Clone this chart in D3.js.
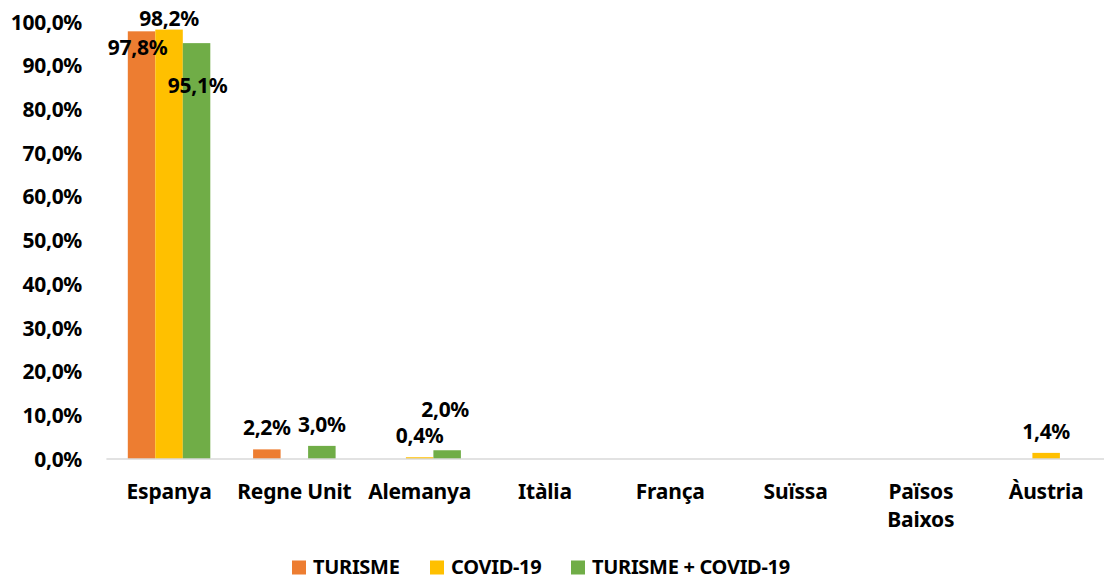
<!DOCTYPE html>
<html>
<head>
<meta charset="utf-8">
<script src="https://cdn.jsdelivr.net/npm/d3@7"></script>
<style>
body { margin: 0; background: #fff; }
svg text { font-family: "Noto Sans", "Open Sans", sans-serif; font-weight: bold; fill: #000; }
</style>
</head>
<body>
<svg></svg>
<script>
var categories = ["Espanya", "Regne Unit", "Alemanya", "Itàlia", "França", "Suïssa", "Països Baixos", "Àustria"];
var seriesNames = ["TURISME", "COVID-19", "TURISME + COVID-19"];
var turisme = [97.8, 2.2, 0, 0, 0, 0, 0, 0];
var covid = [98.2, 0, 0.4, 0, 0, 0, 0, 1.4];
var turismeCovid = [95.1, 3.0, 2.0, 0, 0, 0, 0, 0];
var yTicks = [0, 10, 20, 30, 40, 50, 60, 70, 80, 90, 100];
var colors = ["#ED7D31", "#FFC000", "#70AD47"];

var width = 1104, height = 580;
var allSeries = [turisme, covid, turismeCovid];

// label nudges (dx, dy) where the chart moved a data label by hand
var nudge = {
	"0|Espanya": [-4, 38],
	"1|Espanya": [0, 10],
	"2|Espanya": [1, 64],
	"2|Alemanya": [-2, -19]
};

var svg = d3.select("svg").attr("width", width).attr("height", height);

var x = d3.scaleBand().domain(categories).range([106.4, 1108.8]);
var xs = d3.scaleBand().domain(d3.range(3)).range([x.bandwidth() / 2 - 41.25, x.bandwidth() / 2 + 41.25]);
var y = d3.scaleLinear().domain([0, 100]).range([459, 21.7]);

var fmt = function(v) { return d3.format(".1f")(v).replace(".", ",") + "%"; };

// y axis labels
var yAxis = d3.axisLeft(y).tickValues(yTicks).tickSize(0).tickPadding(0).tickFormat(fmt);
var gy = svg.append("g").attr("transform", "translate(82,0)").call(yAxis);
gy.select(".domain").remove();
gy.selectAll("text").style("font-size", "21px").style("font-family", null).attr("dy", "0.35em").attr("letter-spacing", "-0.3");

// bars
var data = [];
allSeries.forEach(function(vals, s) {
	vals.forEach(function(v, i) {
		data.push({s: s, cat: categories[i], v: v});
	});
});

svg.append("g").selectAll("rect").data(data).enter().append("rect")
	.attr("x", function(d) { return x(d.cat) + xs(d.s); })
	.attr("width", xs.bandwidth())
	.attr("y", function(d) { return y(d.v); })
	.attr("height", function(d) { return y(0) - y(d.v); })
	.attr("fill", function(d) { return colors[d.s]; });

// x axis line
svg.append("line").attr("x1", 106.4).attr("x2", width).attr("y1", y(0)).attr("y2", y(0))
	.attr("stroke", "#D9D9D9").attr("stroke-width", 1.5);

// data labels
svg.append("g").selectAll("text").data(data.filter(function(d) { return d.v > 0; })).enter().append("text")
	.attr("x", function(d) {
		var n = nudge[d.s + "|" + d.cat] || [0, 0];
		return x(d.cat) + xs(d.s) + xs.bandwidth() / 2 + n[0];
	})
	.attr("y", function(d) {
		var n = nudge[d.s + "|" + d.cat] || [0, 0];
		return y(d.v) - 14 + n[1];
	})
	.attr("text-anchor", "middle")
	.attr("letter-spacing", "-0.3")
	.style("font-size", "21px")
	.text(function(d) { return fmt(d.v); });

// category labels
var xl = svg.append("g").selectAll("text").data(categories).enter().append("text")
	.attr("x", function(d) { return x(d) + x.bandwidth() / 2; })
	.attr("y", 499)
	.attr("text-anchor", "middle")
	.attr("letter-spacing", "-0.2")
	.style("font-size", "21px");
xl.each(function(d) {
	var t = d3.select(this);
	var parts = d === "Països Baixos" ? ["Països", "Baixos"] : [d];
	parts.forEach(function(p, k) {
		t.append("tspan").attr("x", x(d) + x.bandwidth() / 2).attr("dy", k === 0 ? 0 : 28).text(p);
	});
});

// legend
var legendX = [292, 430, 571];
var lg = svg.append("g").selectAll("g").data(seriesNames).enter().append("g")
	.attr("transform", function(d, i) { return "translate(" + legendX[i] + ",0)"; });
lg.append("rect").attr("x", 0).attr("y", 560.5).attr("width", 14).attr("height", 14)
	.attr("fill", function(d, i) { return colors[i]; });
lg.append("text").attr("x", 21).attr("y", 574).attr("letter-spacing", "-0.3")
	.style("font-size", "20px").text(function(d) { return d; });
</script>
</body>
</html>
